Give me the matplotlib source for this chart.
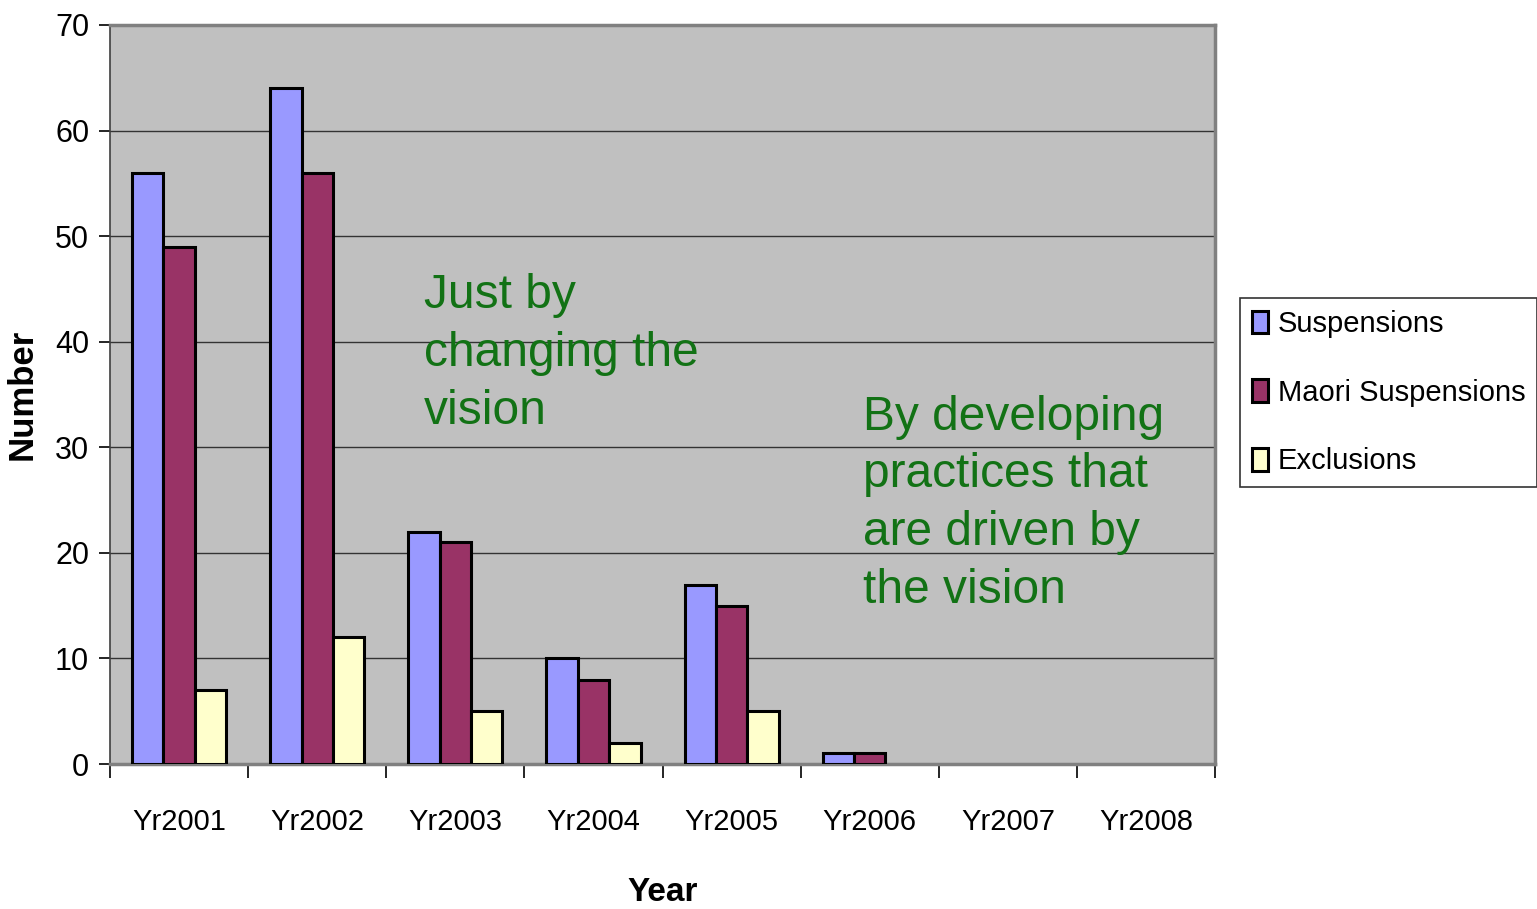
import numpy as np
import matplotlib
matplotlib.use("Agg")
import matplotlib.pyplot as plt

# Yearly counts per category
years = ["Yr2001", "Yr2002", "Yr2003", "Yr2004", "Yr2005", "Yr2006", "Yr2007", "Yr2008"]
suspensions = [56, 64, 22, 10, 17, 1, 0, 0]
maori_suspensions = [49, 56, 21, 8, 15, 1, 0, 0]
exclusions = [7, 12, 5, 2, 5, 0, 0, 0]

series_names = ["Suspensions", "Maori Suspensions", "Exclusions"]
series_colors = ["#9999FF", "#993366", "#FFFFCC"]

plt.rcParams["font.family"] = ["Liberation Sans Narrow", "Liberation Sans", "DejaVu Sans"]

fig = plt.figure(figsize=(15.37, 9.09), dpi=100)
ax = fig.add_axes([0.0716, 0.1595, 0.7190, 0.8130])
ax.set_facecolor("#C0C0C0")

x = np.arange(len(years))
w = 0.227
for i, (vals, name, col) in enumerate(zip([suspensions, maori_suspensions, exclusions],
                                           series_names, series_colors)):
    bars = ax.bar(x + (i - 1) * w, vals, width=w, color=col, edgecolor="black",
                  linewidth=2.2, label=name, zorder=3)
    # empty years get no outline
    for b, v in zip(bars, vals):
        if v == 0:
            b.set_visible(False)

ax.set_xlim(-0.5, len(years) - 0.5)
ax.set_ylim(0, 70)
ax.set_yticks(range(0, 71, 10))
ax.yaxis.grid(True, color="#333333", linewidth=1.0, zorder=1)
ax.set_axisbelow(True)

# category labels between boundary ticks
ax.set_xticks(x)
ax.set_xticklabels(years, fontsize=21)
ax.tick_params(axis="x", length=0, pad=32)
ax.set_xticks(np.arange(-0.5, len(years)), minor=True)
ax.tick_params(axis="x", which="minor", length=10, width=1.2, color="black", direction="out")
ax.tick_params(axis="y", labelsize=22, length=8, width=1.2, direction="out", pad=7)

ax.spines["left"].set_color("#404040")
ax.spines["left"].set_linewidth(1.2)
for s in ["top", "right", "bottom"]:
    ax.spines[s].set_color("#808080")
    ax.spines[s].set_linewidth(2.5)

ax.set_xlabel("Year", fontsize=24, fontweight="bold", labelpad=29)
ax.set_ylabel("Number", fontsize=25, fontweight="bold", labelpad=12)

green = "#127215"
ax.text(1.77, 46.5, "Just by\nchanging the\nvision", fontsize=34.5, color=green,
        va="top", ha="left", linespacing=1.37, zorder=4)
ax.text(4.95, 35.0, "By developing\npractices that\nare driven by\nthe vision", fontsize=34.5,
        color=green, va="top", ha="left", linespacing=1.37, zorder=4)

leg = fig.legend(loc="upper left", bbox_to_anchor=(0.8068, 0.672), fontsize=21,
                 frameon=True, fancybox=False, edgecolor="black", handlelength=0.55,
                 handleheight=0.8, handletextpad=0.35, labelspacing=1.4,
                 borderpad=0.4, borderaxespad=0)
leg.get_frame().set_linewidth(1.2)

fig.savefig("out.png", dpi=100, facecolor="white")
